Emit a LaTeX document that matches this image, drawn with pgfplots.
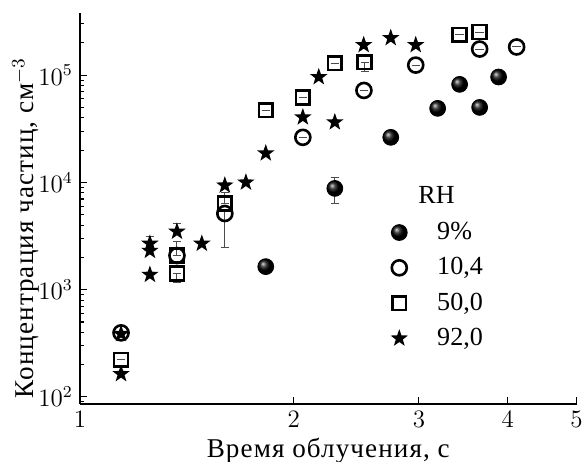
\documentclass[border=0pt]{standalone}
\usepackage{fontspec}
\setmainfont{Liberation Serif}
\newfontfamily\labelfont{Liberation Serif}[LetterSpace=4]
\usepackage{pgfplots}
\usepackage{pgfplotstable}
\pgfplotsset{compat=1.18}
\pgfdeclareplotmark{fstar}{%
  \pgfpathmoveto{\pgfpointpolar{90}{\pgfplotmarksize}}%
  \pgfpathlineto{\pgfpointpolar{126}{0.40\pgfplotmarksize}}%
  \pgfpathlineto{\pgfpointpolar{162}{\pgfplotmarksize}}%
  \pgfpathlineto{\pgfpointpolar{198}{0.40\pgfplotmarksize}}%
  \pgfpathlineto{\pgfpointpolar{234}{\pgfplotmarksize}}%
  \pgfpathlineto{\pgfpointpolar{270}{0.40\pgfplotmarksize}}%
  \pgfpathlineto{\pgfpointpolar{306}{\pgfplotmarksize}}%
  \pgfpathlineto{\pgfpointpolar{342}{0.40\pgfplotmarksize}}%
  \pgfpathlineto{\pgfpointpolar{18}{\pgfplotmarksize}}%
  \pgfpathlineto{\pgfpointpolar{54}{0.40\pgfplotmarksize}}%
  \pgfpathclose\pgfusepathqfill}

\pgfplotstableread{
x y ep em
1.826 1640 0 0
2.284 8790 2350 2420
2.738 26300 0 0
3.188 49000 0 0
3.423 82000 0 0
3.653 50000 0 0
3.885 96000 0 0
}\sphere
\pgfplotstableread{
x y ep em
1.142 396 0 0
1.369 2080 0 0
1.599 5130 300 2660
2.059 26300 0 0
2.51 72000 0 0
2.969 124000 0 0
3.653 175000 0 0
4.118 183000 0 0
}\circ
\pgfplotstableread{
x y ep em
1.142 222 0 0
1.369 2080 730 0
1.369 1410 0 250
1.599 6370 1700 0
1.826 47000 0 0
2.059 62000 0 0
2.284 129000 0 0
2.516 132000 0 25000
3.423 237000 0 0
3.653 252000 0 0
}\squares
\pgfplotstableread{
x y ep em
1.142 388 0 0
1.142 164 0 0
1.254 2690 430 0
1.254 2310 0 0
1.254 1380 0 0
1.369 3480 660 0
1.484 2690 0 0
1.599 9380 0 0
1.712 10000 0 0
1.826 18700 0 0
2.059 40500 0 0
2.168 96000 0 0
2.284 36400 0 0
2.508 191000 0 0
2.738 222000 0 0
2.969 191000 0 0
}\stars

\begin{document}
\begin{tikzpicture}
\useasboundingbox (-38.4pt,-27.8pt) rectangle (241.6pt,193.7pt);
\begin{axis}[
  scale only axis,
  width=238pt, height=187.5pt,
  xmode=log, ymode=log,
  xmin=1, xmax=5, ymin=86, ymax=3.8e5,
  axis lines*=left,
  axis line style={line width=0.6pt},
  tick align=inside,
  major tick length=3.4pt, minor tick length=2pt,
  every tick/.style={black, line width=0.5pt},
  xtick={1,2,3,4,5},
  xticklabels={$1$,$2$,$3$,$4$,$5$},
  xminorticks=false,
  tick label style={font=\fontsize{12}{14}\selectfont},
  xlabel={Время облучения, с},
  ylabel={Концентрация частиц, см$^{-3}$},
  xlabel style={font=\labelfont\fontsize{13}{15}\selectfont, yshift=2pt},
  every axis y label/.style={at={([xshift=-26pt]rel axis cs:0,0.45)}, rotate=90, anchor=center,
    font=\labelfont\fontsize{13}{15}\selectfont},
  legend style={at={(rel axis cs:0.612,0.487)}, anchor=north west,
    draw=none, fill=none, row sep=3.1pt,
    font=\fontsize{12.5}{14}\selectfont,
    /tikz/every odd column/.append style={column sep=12pt}},
  legend cell align=left,
  error bars/y dir=both, error bars/y explicit,
  error bars/error bar style={black!70, line width=0.5pt},
  error bars/error mark options={rotate=90, mark size=2pt, black!70, line width=0.5pt},
]
\addplot[only marks, mark=ball, mark size=3.8pt, mark options={ball color=black}]
  table[x=x, y=y, y error plus=ep, y error minus=em]{\sphere};
\addlegendentry{9\%}
\addplot[only marks, mark=o, mark size=3.6pt, mark options={line width=1.25pt, black}]
  table[x=x, y=y, y error plus=ep, y error minus=em]{\circ};
\addlegendentry{10,4}
\addplot[only marks, mark=square, mark size=3.3pt, mark options={line width=1.25pt, black}]
  table[x=x, y=y, y error plus=ep, y error minus=em]{\squares};
\addlegendentry{50,0}
\addplot[only marks, mark=fstar, mark size=4.4pt, mark options={black}]
  table[x=x, y=y, y error plus=ep, y error minus=em]{\stars};
\addlegendentry{92,0}
\node[font=\fontsize{12.5}{14}\selectfont] at (rel axis cs:0.718,0.535) {RH};
\end{axis}
\end{tikzpicture}
\end{document}
